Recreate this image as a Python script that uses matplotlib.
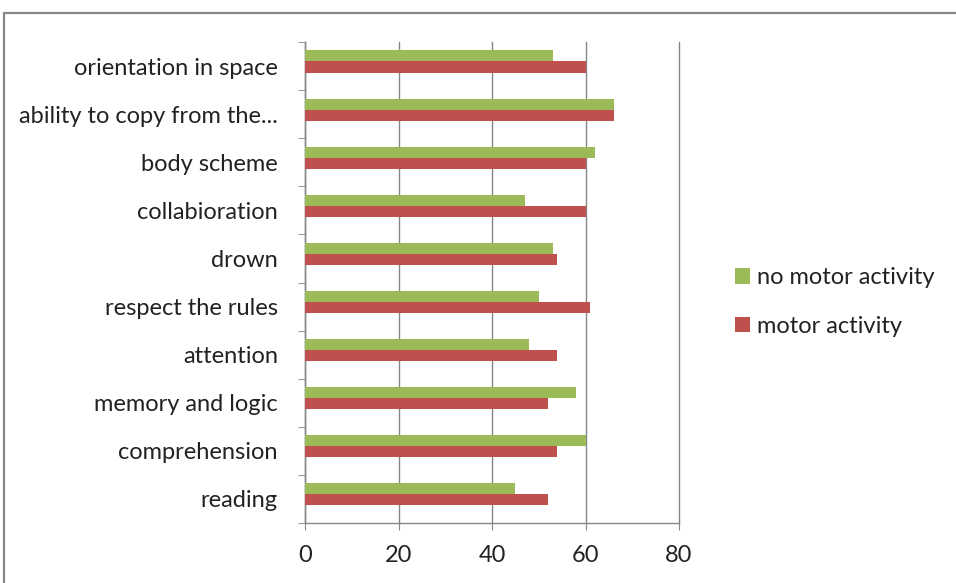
import matplotlib.pyplot as plt
from matplotlib.patches import Rectangle
import numpy as np

plt.rcParams['font.family'] = ['Lato', 'DejaVu Sans']

# bottom to top, as drawn
categories = [
    'reading',
    'comprehension',
    'memory and logic',
    'attention',
    'respect the rules',
    'drown',
    'collabioration',
    'body scheme',
    'ability to copy from the...',
    'orientation in space',
]
no_motor = [45, 60, 58, 48, 50, 53, 47, 62, 66, 53]
motor    = [52, 54, 52, 54, 61, 54, 60, 60, 66, 60]
x_ticks = [0, 20, 40, 60, 80]

green = '#9BBB59'
red = '#C0504D'
gray = '#868686'
fs = 17

fig = plt.figure(figsize=(9.56, 5.83), dpi=100)

# outer chart frame
fig.patches.append(Rectangle((4 / 956, -0.1), 1.2, (583 - 13) / 583 + 0.1,
                             transform=fig.transFigure, fill=False,
                             edgecolor=gray, linewidth=1.6))

ax = fig.add_axes([305 / 956, 60 / 583, 374 / 956, 481 / 583])

y = np.arange(len(categories))
h = 0.23
ax.barh(y + 0.21, no_motor, height=h, color=green, label='no motor activity', zorder=3)
ax.barh(y - 0.02, motor, height=h, color=red, label='motor activity', zorder=3)

ax.set_xlim(0, 80)
ax.set_ylim(-0.5, len(categories) - 0.5)

ax.set_xticks(x_ticks)
ax.set_xticklabels([str(v) for v in x_ticks])
ax.tick_params(axis='x', length=5, color=gray, labelsize=fs, pad=11, labelcolor='#222222')
ax.xaxis.grid(True, color=gray, linewidth=1.0, zorder=0)
for gl in ax.get_xgridlines():
    gl.set_clip_on(False)

ax.set_yticks(y)
ax.set_yticklabels(categories)
ax.tick_params(axis='y', which='major', length=0, labelsize=fs, pad=19.5, labelcolor='#222222')
ax.set_yticks(np.arange(-0.5, len(categories)), minor=True)
ax.tick_params(axis='y', which='minor', length=5, color=gray)

for s in ['top', 'right']:
    ax.spines[s].set_visible(False)
for s in ['left', 'bottom']:
    ax.spines[s].set_color(gray)
    ax.spines[s].set_linewidth(1.0)

handles, labels = ax.get_legend_handles_labels()
fig.legend(handles, labels, loc='center left', bbox_to_anchor=(714 / 956, 1 - 302 / 583),
           frameon=False, fontsize=fs, handlelength=0.62, handleheight=0.62,
           handletextpad=0.3, labelspacing=1.15, labelcolor='#222222')

fig.savefig('out.png', dpi=100)
